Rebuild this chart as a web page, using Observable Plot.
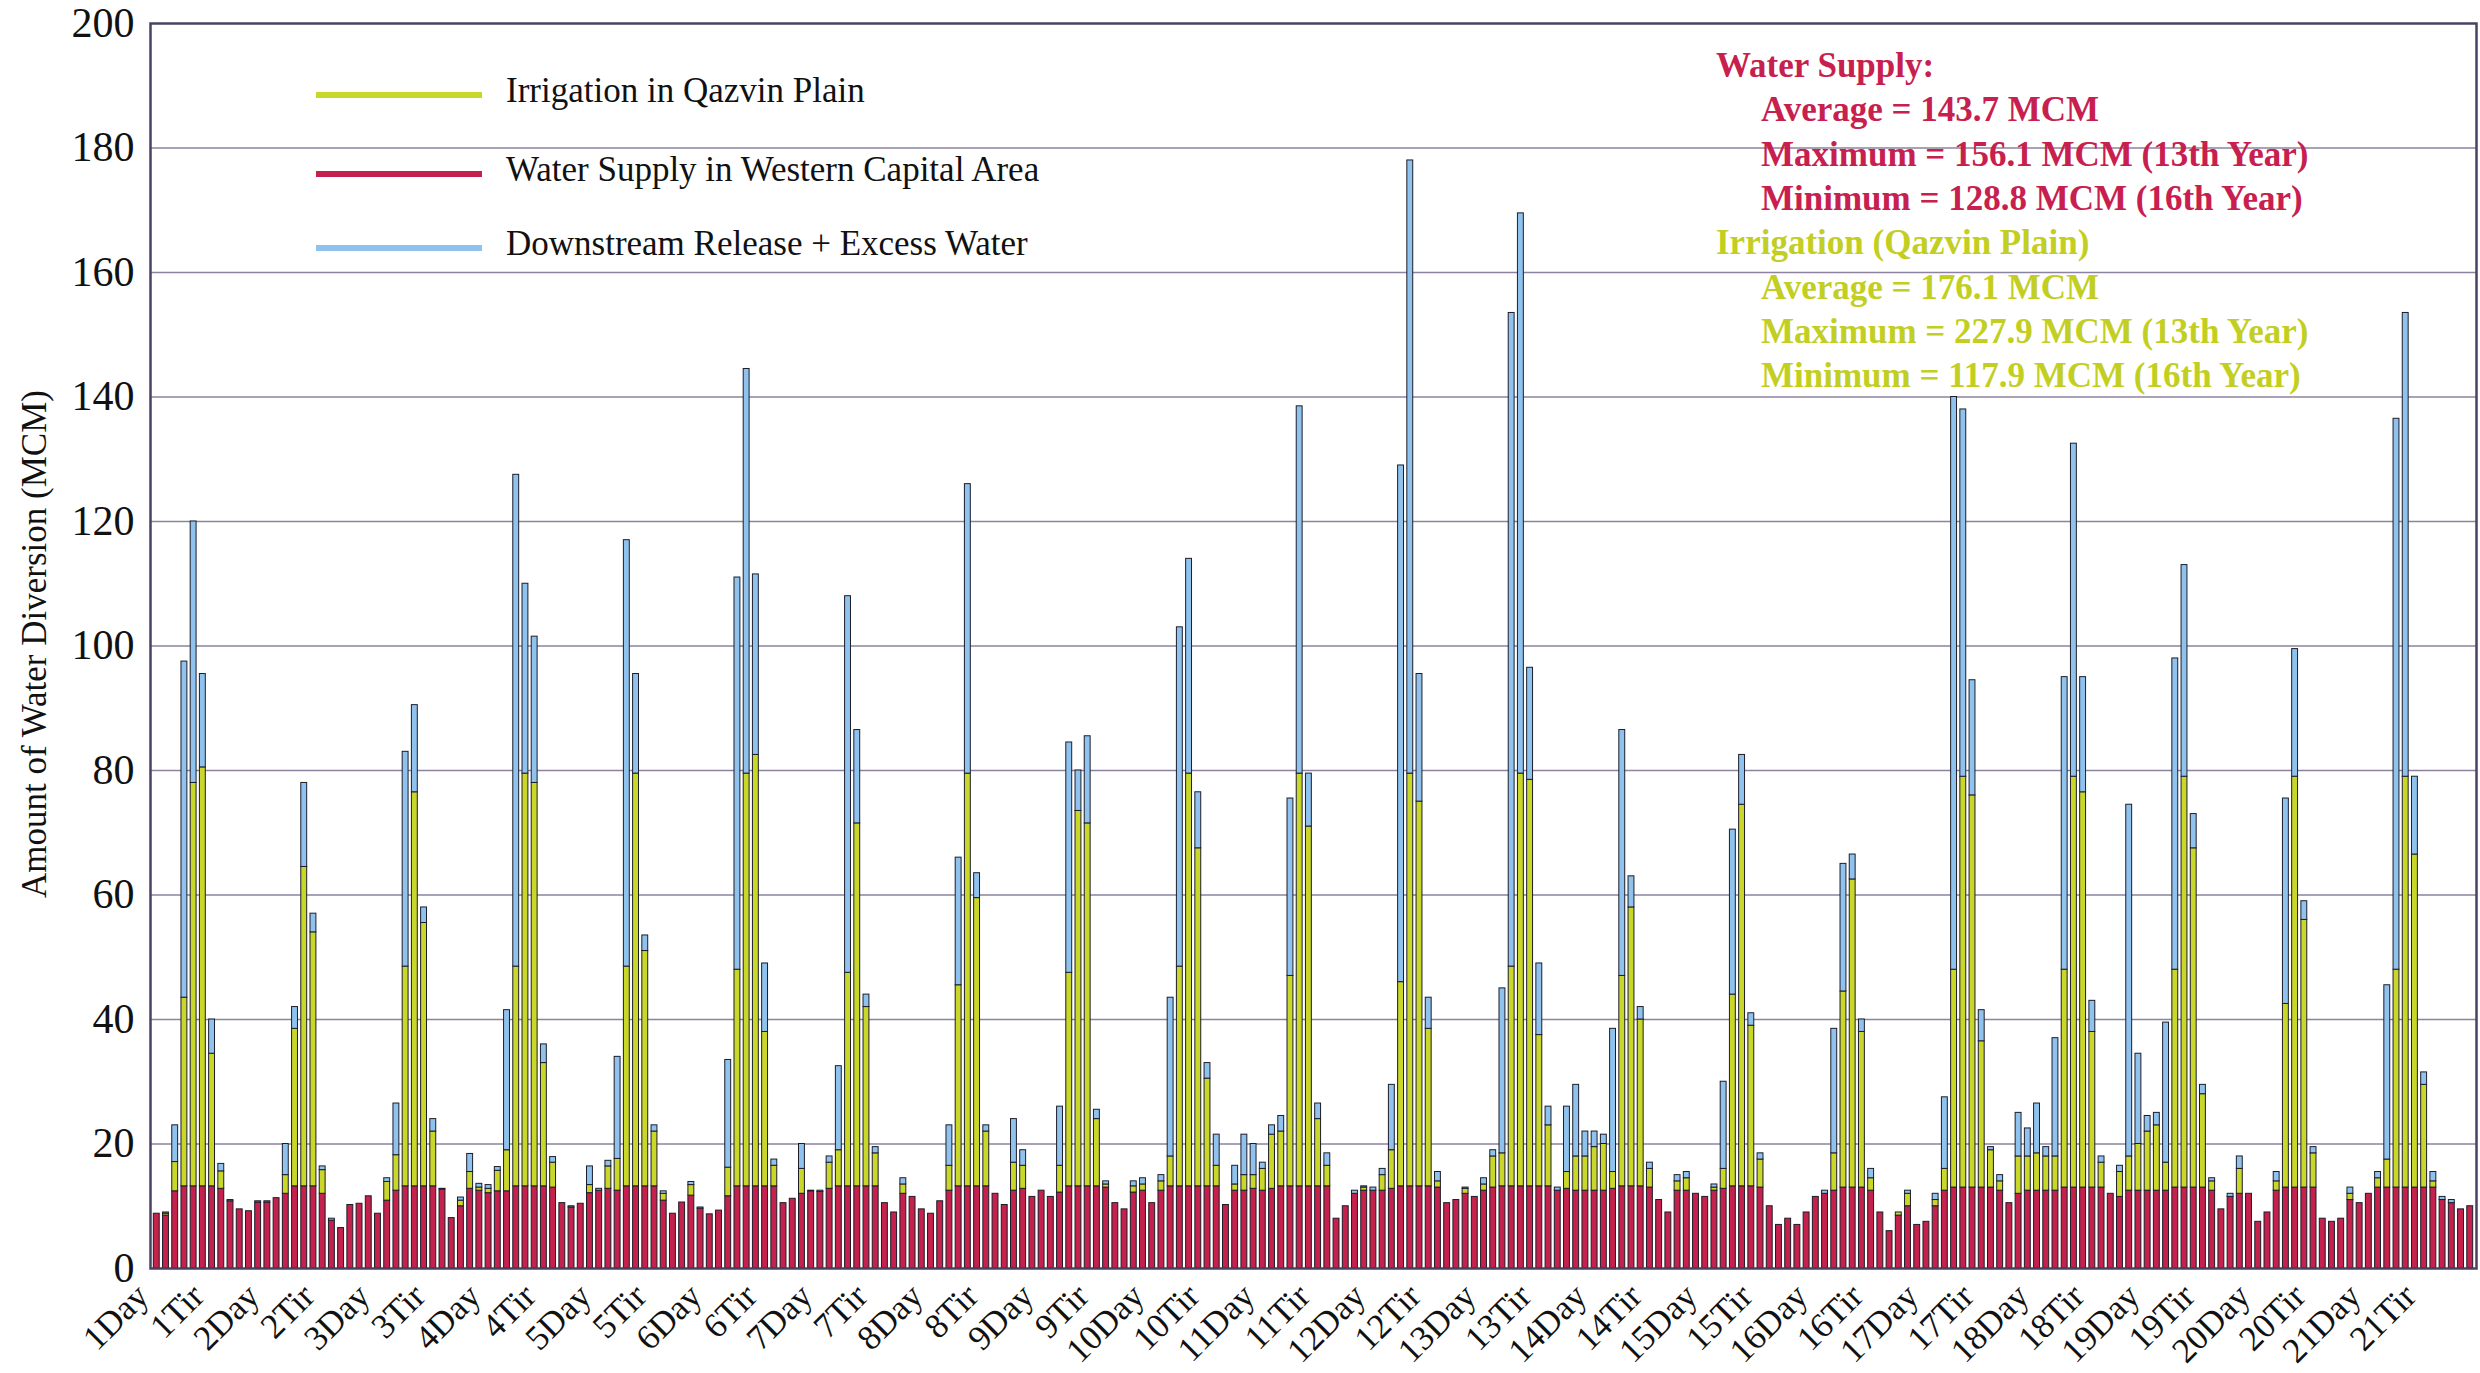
<!DOCTYPE html>
<html><head><meta charset="utf-8">
<script src="https://cdn.jsdelivr.net/npm/d3@7"></script>
<script src="https://cdn.jsdelivr.net/npm/@observablehq/plot@0.6"></script>
<style>
body{margin:0;background:#fff;}
#wrap{position:relative;width:2480px;height:1373px;font-family:"Liberation Serif","Times New Roman",serif;overflow:hidden;}
.leg{position:absolute;font-size:35px;line-height:40px;color:#111;white-space:nowrap;}
.sw{position:absolute;height:6px;width:166px;}
.ann{position:absolute;font-size:35px;font-weight:bold;line-height:44.3px;white-space:nowrap;}
.ylab{position:absolute;font-size:35px;white-space:nowrap;color:#111;transform:translate(-50%,-50%) rotate(-90deg);left:35px;top:644px;}
</style></head><body><div id="wrap"></div>
<script>
// Monthly values (MCM), 21 years x 12 months
const supply = [
 8.8,8.5,12.4,13.2,13.2,13.2,13.2,12.8,10.8,9.5,9.2,10.6,
 10.6,11.3,12.0,13.2,13.2,13.2,12.0,7.7,6.5,10.2,10.4,11.6,
 8.8,10.9,12.5,13.2,13.2,13.2,13.2,12.7,8.1,10.0,12.8,12.5,
 12.1,12.4,12.4,13.2,13.2,13.2,13.2,13.0,10.5,9.8,10.4,12.1,
 12.5,12.8,12.5,13.2,13.2,13.2,13.2,10.9,8.8,10.6,11.7,9.6,
 8.7,9.3,11.6,13.2,13.2,13.2,13.2,13.2,10.5,11.2,12.0,12.4,
 12.3,12.8,13.2,13.2,13.2,13.2,13.2,10.5,9.0,12.0,11.5,9.5,
 8.8,10.8,12.5,13.2,13.2,13.2,13.2,12.0,10.2,12.5,12.8,11.5,
 12.5,11.5,12.2,13.2,13.2,13.2,13.2,13.0,10.5,9.5,12.2,12.5,
 10.5,12.5,13.2,13.2,13.2,13.2,13.2,13.2,10.2,12.5,12.5,12.8,
 12.5,12.8,13.2,13.2,13.2,13.2,13.2,13.2,8.0,10.0,12.0,12.5,
 12.5,12.5,12.8,13.2,13.2,13.2,13.2,13.0,10.5,11.0,12.0,11.5,
 12.5,13.0,13.2,13.2,13.2,13.2,13.2,13.2,12.5,12.8,12.5,12.5,
 12.5,12.5,12.8,13.2,13.2,13.2,13.0,11.0,9.0,12.5,12.5,12.0,
 11.5,12.5,12.8,13.2,13.2,13.2,13.0,10.0,7.0,8.0,7.0,9.0,
 11.5,12.0,12.5,13.0,13.0,13.0,12.5,9.0,6.0,8.5,10.0,7.0,
 7.5,10.0,12.5,13.0,13.0,13.0,13.0,13.0,12.5,10.5,12.0,12.5,
 12.5,12.5,12.5,13.0,13.0,13.0,13.0,13.0,12.0,11.5,12.5,12.5,
 12.5,12.5,12.5,13.0,13.0,13.0,13.0,12.5,9.5,11.5,12.0,12.0,
 7.5,9.0,12.5,13.0,13.0,13.0,13.0,8.0,7.5,8.0,11.0,10.5,
 12.0,13.0,13.0,13.0,13.0,13.0,13.0,13.0,11.0,10.5,9.5,10.0
];
const irrigation = [
 0,0.3,4.7,30.3,64.8,67.3,21.3,2.8,0,0,0,0,
 0,0,3.0,25.3,51.3,40.8,3.8,0,0,0,0,0,
 0,3.0,5.7,35.3,63.3,42.3,8.8,0,0,0.9,2.7,0.5,
 0.7,3.3,6.6,35.3,66.3,64.8,19.8,4.0,0,0,0,1.3,
 0,3.6,5.1,35.3,66.3,37.8,8.8,1.1,0,0,1.7,0,
 0,0,4.6,34.8,66.3,69.3,24.8,3.3,0,0,4.0,0,
 0,4.2,5.8,34.3,58.3,28.8,5.3,0,0,1.5,0,0,
 0,0,4.0,32.3,66.3,46.3,8.8,0,0,4.5,3.7,0,
 0,0,4.3,34.3,60.3,58.3,10.8,0.5,0,0,1.0,1.0,
 0,1.5,4.8,35.3,66.3,54.3,17.3,3.3,0,1.0,2.5,2.2,
 3.5,8.7,8.8,33.8,66.3,57.8,10.8,3.3,0,0,0,0.5,
 0,2.5,6.2,32.8,66.3,61.8,25.3,1.0,0,0,0.8,0,
 1.0,5.0,5.3,35.3,66.3,65.3,24.3,9.8,0,2.7,5.5,5.5,
 7.0,7.5,2.7,33.8,44.8,26.8,3.0,0,0,1.5,2.0,0,
 0,0.5,3.2,30.8,61.3,25.8,4.5,0,0,0,0,0,
 0,0,6.0,31.5,49.5,25.0,2.0,0,0,0.5,2.0,0,
 0,1.0,3.5,35.0,66.0,63.0,23.5,6.0,1.5,0,6.0,5.5,
 6.0,5.5,5.5,35.0,66.0,63.5,25.0,4.0,0,4.0,5.5,7.5,
 9.5,10.5,4.5,35.0,66.0,54.5,15.0,1.5,0,0,4.0,0,
 0,0,1.5,29.5,66.0,43.0,5.5,0,0,0,1.0,0,
 0,1.5,4.5,35.0,66.0,53.5,16.5,1.0,0,0,0,0
];
const release = [
 0,0.2,5.9,54,42,15,5.5,1.2,0.2,0,0,0.2,
 0.2,0,5,3.5,13.5,3,0.6,0.3,0,0,0,0,
 0,0.6,8.3,34.5,14,2.5,2,0.1,0,0.5,2.9,0.6,
 0.6,0.6,22.5,79,30.5,23.5,3,0.9,0,0.2,0,3.0,
 0.3,0.9,16.4,68.5,16,2.5,1,0.4,0,0,0.5,0.2,
 0,0,17.3,63,65,29,11,1,0,0,4,0.1,
 0.2,1,13.5,60.5,15,2,1,0,0,1,0,0,
 0,0,6.5,20.5,46.5,4,1,0,0,7,2.5,0,
 0,0,9.5,37,6.5,14,1.5,0.5,0,0,0.8,1,
 0,1,25.5,54.5,34.5,9,2.5,5,0,3,6.5,5,
 1,1.5,2.5,28.5,59,8.5,2.5,2,0,0,0.5,0.2,
 0.5,1,10.5,83,98.5,20.5,5,1.5,0,0,0.2,0,
 1,1,26.5,105,90,18,11.5,3,0.5,10.5,11.5,4,
 2.5,1.5,23,39.5,5,2,1,0,0,1,1,0,
 0,0.5,14,26.5,8,2,1,0,0,0,0,0,
 0,0.5,20,20.5,4,2,1.5,0,0,0,0.5,0,
 0,1,11.5,92,59,18.5,5,0.5,1,0,7,4.5,
 8,1.5,19,47,53.5,18.5,5,1,0,1,56.5,14.5,
 2.5,2,22.5,50,34,5.5,1.5,0.5,0,0.5,2,0,
 0,0,1.5,33,20.5,3,1,0,0,0,1,0,
 0,1,28,88.5,74.5,12.5,2,1.5,0.5,0.5,0,0
];
const tickIdx = [0,6,12,18,24,30,36,42,48,54,60,66,72,78,84,90,96,102,108,114,120,126,132,138,144,150,156,162,168,174,180,186,192,198,204,210,216,222,228,234,240,246];
const tickLabels = ["1Day","1Tir","2Day","2Tir","3Day","3Tir","4Day","4Tir","5Day","5Tir","6Day","6Tir","7Day","7Tir","8Day","8Tir","9Day","9Tir","10Day","10Tir","11Day","11Tir","12Day","12Tir","13Day","13Tir","14Day","14Tir","15Day","15Tir","16Day","16Tir","17Day","17Tir","18Day","18Tir","19Day","19Tir","20Day","20Tir","21Day","21Tir"];
const yTicks = [0,20,40,60,80,100,120,140,160,180,200];
const seriesNames = ["supply","irrigation","release"];
const seriesColors = ["#c4214d","#c9d62a","#8fc3ee"];

const rows = [];
supply.forEach((v, i) => {
  rows.push({i, s: "supply", v: supply[i]});
  rows.push({i, s: "irrigation", v: irrigation[i]});
  rows.push({i, s: "release", v: release[i]});
});
const bars = rows.filter(d => d.v > 0);

const font = "Liberation Serif, Times New Roman, serif";
const chart = Plot.plot({
  width: 2480, height: 1373,
  marginLeft: 150, marginRight: 4, marginTop: 23, marginBottom: 105,
  style: {fontFamily: font, background: "white", color: "#111"},
  x: {type: "band", domain: d3.range(supply.length), padding: 0.36, axis: null},
  y: {domain: [0, 200], axis: null},
  color: {domain: seriesNames, range: seriesColors},
  marks: [
    Plot.gridY(yTicks.slice(1, -1), {stroke: "#8d82a0", strokeOpacity: 1, strokeWidth: 1.3}),
    Plot.barY(bars, {x: "i", y: "v", fill: "s", stroke: "#1d1d2a", strokeWidth: 1}),
    Plot.frame({stroke: "#4b4163", strokeWidth: 2.5}),
    Plot.axisY(yTicks, {tickSize: 0, tickPadding: 16, fontSize: 42, fontFamily: font, label: null}),
    Plot.axisX(tickIdx, {tickFormat: i => tickLabels[tickIdx.indexOf(i)], tickRotate: -45, tickSize: 0, tickPadding: 22, dx: -14, fontSize: 35, fontFamily: font, label: null})
  ]
});
const wrap = document.getElementById("wrap");
wrap.appendChild(chart);

const legend = [
  {label: "Irrigation in Qazvin Plain", color: "#c9d62a", y: 95},
  {label: "Water Supply in Western Capital Area", color: "#c4214d", y: 174},
  {label: "Downstream Release + Excess Water", color: "#8fc3ee", y: 248}
];
legend.forEach(d => {
  const sw = document.createElement("div");
  sw.className = "sw"; sw.style.left = "316px"; sw.style.top = (d.y - 3) + "px"; sw.style.background = d.color;
  wrap.appendChild(sw);
  const t = document.createElement("div");
  t.className = "leg"; t.style.left = "506px"; t.style.top = (d.y - 24) + "px"; t.textContent = d.label;
  wrap.appendChild(t);
});

const notes = [
  {t: "Water Supply:", c: "#c8204e", ind: 0},
  {t: "Average = 143.7 MCM", c: "#c8204e", ind: 1},
  {t: "Maximum = 156.1 MCM (13th Year)", c: "#c8204e", ind: 1},
  {t: "Minimum = 128.8 MCM (16th Year)", c: "#c8204e", ind: 1},
  {t: "Irrigation (Qazvin Plain)", c: "#c2cf22", ind: 0},
  {t: "Average = 176.1 MCM", c: "#c2cf22", ind: 1},
  {t: "Maximum = 227.9 MCM (13th Year)", c: "#c2cf22", ind: 1},
  {t: "Minimum = 117.9 MCM (16th Year)", c: "#c2cf22", ind: 1}
];
notes.forEach((d, k) => {
  const e = document.createElement("div");
  e.className = "ann";
  e.style.left = (1716 + d.ind * 45) + "px";
  e.style.top = (44 + k * 44.3) + "px";
  e.style.color = d.c;
  e.textContent = d.t;
  wrap.appendChild(e);
});
const yl = document.createElement("div");
yl.className = "ylab"; yl.textContent = "Amount of Water Diversion (MCM)";
wrap.appendChild(yl);
</script></body></html>
